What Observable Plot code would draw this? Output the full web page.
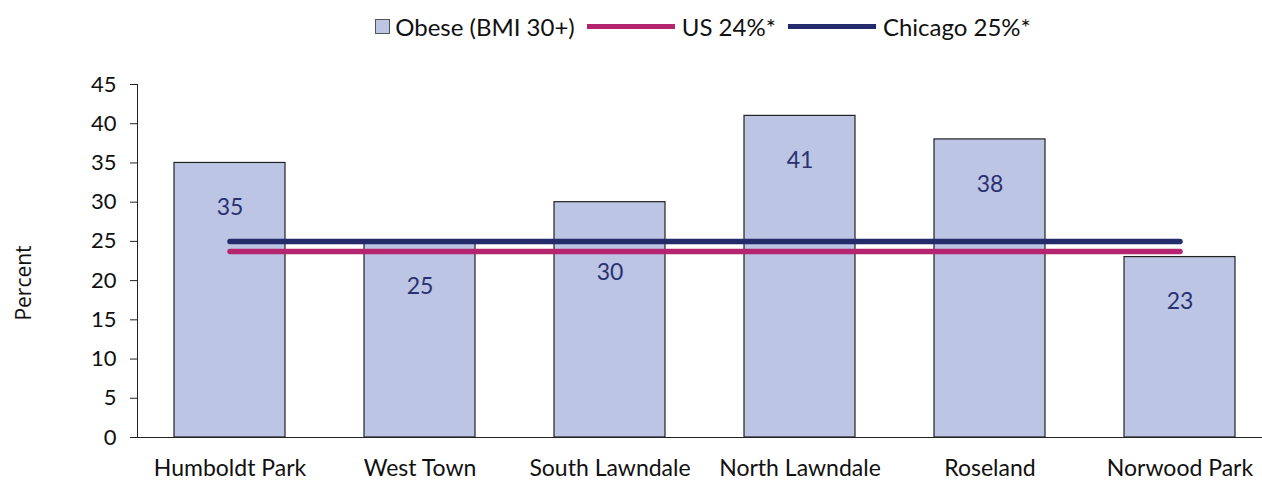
<!DOCTYPE html>
<html>
<head>
<meta charset="utf-8">
<script src="https://cdn.jsdelivr.net/npm/d3@7"></script>
<script src="https://cdn.jsdelivr.net/npm/@observablehq/plot@0.6"></script>
<style>
  html, body { margin: 0; padding: 0; background: #fff; }
  #wrap { position: relative; width: 1262px; height: 491px; font-family: Lato, "Open Sans", sans-serif; }
  #legend { position: absolute; top: 12px; left: 144px; width: 1118px; display: flex; justify-content: center; align-items: center; font-size: 24px; color: #111; }
  .item { display: flex; align-items: center; }
  .sw { width: 13px; height: 13px; background: #bcc5e3; border: 1px solid #555; margin-right: 5px; }
  .ln { width: 88px; height: 5px; margin: 0 7px 0 12px; }
  #chart { position: absolute; top: 0; left: 0; }
  #ylab { position: absolute; left: 23px; top: 283px; transform: translate(-50%, -50%) rotate(-90deg); font-family: "Open Sans", sans-serif; font-size: 21px; color: #111; white-space: nowrap; }
</style>
</head>
<body>
<div id="wrap">
  <div id="chart"></div>
  <div id="legend">
    <div class="item"><span class="sw"></span><span>Obese (BMI 30+)</span></div>
    <div class="item"><span class="ln" style="background:#b5246f"></span><span>US 24%*</span></div>
    <div class="item"><span class="ln" style="background:#232b6a"></span><span>Chicago 25%*</span></div>
  </div>
  <div id="ylab">Percent</div>
</div>
<script>
const categories = ["Humboldt Park", "West Town", "South Lawndale", "North Lawndale", "Roseland", "Norwood Park"];
const obese = [35, 25, 30, 41, 38, 23];
const usValue = 23.7;
const chicagoValue = 25;
const yTicks = [0, 5, 10, 15, 20, 25, 30, 35, 40, 45];

const bars = categories.map((c, i) => ({cat: c, value: obese[i]}));
const usLine = categories.map(c => ({cat: c, value: usValue}));
const chiLine = categories.map(c => ({cat: c, value: chicagoValue}));

const fontFam = "Lato, 'Open Sans', sans-serif";

const chart = Plot.plot({
  width: 1262,
  height: 491,
  marginTop: 84,
  marginBottom: 54,
  marginLeft: 137,
  marginRight: 0,
  style: {fontFamily: fontFam, fontSize: "22px", color: "#111", background: "transparent"},
  x: {type: "band", domain: categories, range: [134, 1274], paddingInner: 0.416, paddingOuter: 0.208},
  y: {domain: [0, 45]},
  marks: [
    Plot.barY(bars, {x: "cat", y: "value", fill: "#bcc5e3", stroke: "#222", strokeWidth: 1.2}),
    Plot.lineY(usLine, {x: "cat", y: "value", stroke: "#b5246f", strokeWidth: 5.5}),
    Plot.lineY(chiLine, {x: "cat", y: "value", stroke: "#232b6a", strokeWidth: 5.5}),
    Plot.text(bars.filter(d => d.cat !== "South Lawndale"), {x: "cat", y: "value", text: d => String(d.value), dy: 45, fill: "#2a3170", fontSize: 23, lineAnchor: "middle"}),
    Plot.text(bars.filter(d => d.cat === "South Lawndale"), {x: "cat", y: "value", text: d => String(d.value), dy: 70, fill: "#2a3170", fontSize: 23, lineAnchor: "middle"}),
    Plot.frame({anchor: "left", stroke: "#222"}),
    Plot.ruleY([0], {stroke: "#222", strokeWidth: 1.2}),
    Plot.axisY({ticks: yTicks, tickSize: 7, tickPadding: 14, label: null, fontSize: 22, stroke: "#222"}),
    Plot.axisX({tickSize: 0, tickPadding: 22, label: null, fontSize: 23})
  ]
});
document.getElementById("chart").appendChild(chart);
</script>
</body>
</html>
